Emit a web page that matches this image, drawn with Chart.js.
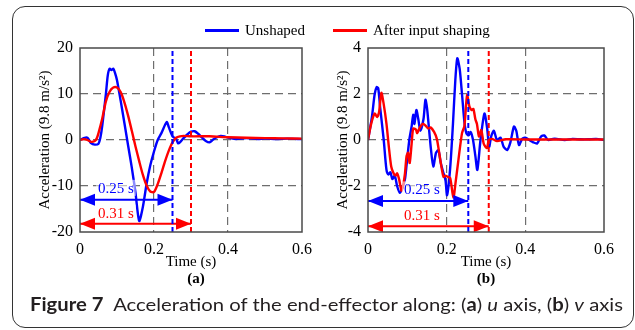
<!DOCTYPE html>
<html><head><meta charset="utf-8">
<script src="https://cdn.jsdelivr.net/npm/chart.js@4"></script>
<style>
body{margin:0;width:635px;height:330px;background:#fff;position:relative;overflow:hidden;font-family:'Liberation Serif','Times New Roman',serif;color:#000;}
#frame{position:absolute;left:12px;top:6px;width:622px;height:322px;border:1.3px solid #333;border-radius:13px;box-sizing:border-box;}
canvas{position:absolute;top:0;}
#cA{left:0;} #cB{left:320px;}
.ln{position:absolute;height:2.6px;}
.lt{position:absolute;font-size:15px;line-height:18px;white-space:nowrap;}
.sub{position:absolute;font-size:15px;font-weight:bold;line-height:18px;transform:translateX(-50%);}
#cap{position:absolute;left:30px;top:293px;font-family:'Lato',sans-serif;font-size:18px;line-height:22px;white-space:nowrap;transform-origin:0 50%;color:#231f20;}
</style></head>
<body>
<div id="frame"></div>
<canvas id="cA" width="320" height="290"></canvas>
<canvas id="cB" width="315" height="290"></canvas>
<div class="ln" style="left:205px;top:29px;width:34px;background:#0000ff"></div>
<div class="lt" id="l1" style="left:245px;top:21px"></div>
<div class="ln" style="left:333px;top:29px;width:34px;background:#ff0000"></div>
<div class="lt" id="l2" style="left:373px;top:21px"></div>
<div class="sub" style="left:196px;top:269px">(a)</div>
<div class="sub" style="left:486px;top:269px">(b)</div>
<div id="cap"><b>Figure 7</b>&nbsp; Acceleration of the end-effector along: (<b>a</b>) <i>u</i> axis, (<b>b</b>) <i>v</i> axis</div>
<script>
// ---- data ----
const seriesNames=['Unshaped','After input shaping'];
const xTicks=[0,0.2,0.4,0.6];
const xTickLabels=['0','0.2','0.4','0.6'];
const yTicksA=[-20,-10,0,10,20];
const yTickLabelsA=['-20','-10','0','10','20'];
const yTicksB=[-4,-2,0,2,4];
const yTickLabelsB=['-4','-2','0','2','4'];

// (a) u axis
const tA_unshaped=[0,0.01,0.02,0.03,0.04,0.05,0.055,0.06,0.07,0.075,0.08,0.085,0.09,0.095,0.1,0.11,0.12,0.13,0.14,0.15,0.16,0.17,0.18,0.19,0.2,0.21,0.22,0.23,0.235,0.24,0.25,0.26,0.265,0.27,0.28,0.29,0.3,0.31,0.32,0.33,0.34,0.35,0.36,0.37,0.38,0.39,0.4,0.42,0.45,0.48,0.5,0.53,0.56,0.6];
const aA_unshaped=[0,0.4,0.5,-0.7,-1,-0.8,0.5,3,10,14,15.5,15.2,15.5,14.5,13,8.5,3.7,-1.2,-6,-11.5,-17.6,-14.5,-9.5,-5.5,-2.5,0,1.5,3.3,3.9,2.8,0.8,0.2,-0.7,-0.5,0.4,1.2,1.8,1.9,1.3,0.5,-0.2,-0.5,0.1,0.6,0.9,0.8,0.5,0.2,0.4,0.2,0.3,0.2,0.3,0.2];
const tA_shaped=[0,0.01,0.02,0.03,0.04,0.045,0.05,0.06,0.07,0.08,0.09,0.1,0.11,0.12,0.13,0.14,0.15,0.16,0.17,0.18,0.19,0.2,0.21,0.22,0.23,0.24,0.25,0.26,0.27,0.28,0.3,0.35,0.4,0.45,0.5,0.55,0.6];
const aA_shaped=[0,0.2,0,-0.4,-0.2,0.3,1.5,4.6,8.4,10.5,11.4,11.4,10.4,8.2,5.3,2.0,-1.4,-4.6,-7.6,-9.9,-11.2,-11.3,-9.6,-7.2,-4.6,-2.3,-0.5,0.5,0.8,0.9,0.8,0.8,0.6,0.5,0.4,0.35,0.3];

// (b) v axis
const tB_unshaped=[0,0.01,0.017,0.022,0.026,0.031,0.04,0.047,0.052,0.057,0.062,0.068,0.074,0.081,0.088,0.094,0.098,0.105,0.111,0.115,0.118,0.123,0.128,0.133,0.141,0.146,0.15,0.154,0.16,0.166,0.173,0.179,0.185,0.192,0.197,0.201,0.209,0.216,0.222,0.227,0.233,0.239,0.245,0.25,0.256,0.261,0.267,0.273,0.278,0.286,0.296,0.303,0.308,0.313,0.32,0.328,0.337,0.345,0.354,0.362,0.371,0.377,0.384,0.392,0.4,0.41,0.42,0.43,0.44,0.448,0.458,0.47,0.48,0.5,0.52,0.54,0.56,0.58,0.6];
const aB_unshaped=[0,1.0,2.0,2.3,2.25,1.4,0,-1.3,-1.5,-1.4,-1.7,-1.55,-2.0,-2.3,-2.05,-1.7,-1.1,0,0.6,1.1,0.7,1.3,0.9,0.4,0.9,1.75,1.4,0.7,-0.4,-1.15,-0.55,-0.45,-1.0,-1.45,-1.75,-2.4,-1.2,0.7,2.6,3.55,3.1,2.0,0.8,0.3,0.2,0.35,0,-0.7,-1.3,0,1.15,0.5,-0.3,0.15,0.4,0,0.1,-0.3,-0.43,-0.1,0.58,0.4,-0.22,0.05,0.1,0,-0.1,-0.15,0.15,0.2,0,0.05,0.05,0,0.05,0.03,0.03,0.05,0];
const tB_shaped=[0,0.008,0.017,0.023,0.028,0.034,0.04,0.047,0.053,0.059,0.065,0.07,0.074,0.079,0.085,0.089,0.094,0.098,0.102,0.106,0.111,0.115,0.122,0.125,0.132,0.139,0.145,0.153,0.159,0.168,0.175,0.181,0.188,0.192,0.197,0.203,0.209,0.217,0.223,0.23,0.239,0.245,0.252,0.258,0.264,0.268,0.273,0.277,0.282,0.288,0.294,0.299,0.303,0.307,0.316,0.328,0.35,0.4,0.5,0.6];
const aB_shaped=[0,0.7,1.15,1.0,1.2,2.05,1.55,0.7,-0.3,-1.15,-1.45,-1.55,-1.45,-1.7,-2.2,-2.0,-1.45,-0.7,-0.55,-1.0,-0.15,0.5,0.45,0.3,0.55,0.7,0.65,0.5,0.55,0.35,0.05,-0.55,-1.3,-1.6,-1.55,-1.6,-1.65,-2.5,-1.8,-0.85,0.3,0.6,1.95,1.45,1.3,1.35,0.9,0.7,0.15,0.43,-0.15,-0.3,-0.35,0,0.05,-0.05,0.03,0.02,0.02,0.02];

// settling-time annotations
const settleLabels=['0.25 s','0.31 s'];
const settleA=[0.25,0.30];
const settleB=[0.255,0.307];
</script>
<script>
const BLUE='#0000ff', RED='#ff0000';
const SERIF="'Liberation Serif','Times New Roman',serif";
document.getElementById('l1').textContent=seriesNames[0];
document.getElementById('l2').textContent=seriesNames[1];

function pts(t,v){return t.map((x,i)=>({x:x,y:v[i]}));}

const decor={
  id:'decor',
  afterDatasetsDraw(chart,args,opts){
    const {ctx,chartArea:a,scales:{x,y}}=chart;
    opts.arrows.forEach(ar=>{
      const x0=x.getPixelForValue(0), x1=x.getPixelForValue(ar.to), yy=y.getPixelForValue(ar.y);
      ctx.save(); ctx.fillStyle=ar.color;
      const L=15,H=6;
      ctx.beginPath(); ctx.moveTo(x0,yy); ctx.lineTo(x0+L,yy-H); ctx.lineTo(x0+L,yy+H); ctx.closePath(); ctx.fill();
      ctx.beginPath(); ctx.moveTo(x1,yy); ctx.lineTo(x1-L,yy-H); ctx.lineTo(x1-L,yy+H); ctx.closePath(); ctx.fill();
      ctx.restore();
    });
    opts.labels.forEach(lb=>{
      const px=x.getPixelForValue(lb.x), py=y.getPixelForValue(lb.y);
      ctx.save(); ctx.font='15px '+SERIF;
      const w=ctx.measureText(lb.text).width;
      ctx.fillStyle='rgba(255,255,255,0.55)';
      ctx.fillRect(px-w/2-2,py-8,w+4,16);
      ctx.fillStyle=lb.color; ctx.textAlign='center'; ctx.textBaseline='middle';
      ctx.fillText(lb.text,px,py+1);
      ctx.restore();
    });
  },
  afterDraw(chart){
    const {ctx,chartArea:a}=chart;
    ctx.save(); ctx.strokeStyle='#4a4a4a'; ctx.lineWidth=1.5;
    ctx.strokeRect(a.left,a.top,a.right-a.left,a.bottom-a.top);
    ctx.restore();
  }
};

function makeChart(id,cfg){
  const gridCol=(edgeVals)=>(c)=>edgeVals.includes(c.tick&&c.tick.value)?'rgba(0,0,0,0)':'#6e6e6e';
  const ds=[
    {data:pts(cfg.tU,cfg.vU),borderColor:BLUE,borderWidth:2.4,tension:0.25,pointRadius:0,order:2},
    {data:pts(cfg.tS,cfg.vS),borderColor:RED,borderWidth:2.4,tension:0.25,pointRadius:0,order:1},
    {data:[{x:cfg.settle[0],y:cfg.yT[0]},{x:cfg.settle[0],y:cfg.yT[cfg.yT.length-1]}],borderColor:BLUE,borderWidth:2,borderDash:[5,3],pointRadius:0,order:0},
    {data:[{x:cfg.settle[1],y:cfg.yT[0]},{x:cfg.settle[1],y:cfg.yT[cfg.yT.length-1]}],borderColor:RED,borderWidth:2,borderDash:[5,3],pointRadius:0,order:0},
    {data:[{x:0,y:cfg.arY[0]},{x:cfg.settle[0],y:cfg.arY[0]}],borderColor:BLUE,borderWidth:2,pointRadius:0,order:0},
    {data:[{x:0,y:cfg.arY[1]},{x:cfg.settle[1],y:cfg.arY[1]}],borderColor:RED,borderWidth:2,pointRadius:0,order:0}
  ];
  return new Chart(document.getElementById(id),{
    type:'line',
    data:{datasets:ds},
    plugins:[decor],
    options:{
      responsive:false,animation:false,
      layout:{padding:{left:0,right:cfg.padR,top:48,bottom:0}},
      plugins:{legend:{display:false},tooltip:{enabled:false},
        decor:{
          arrows:[{y:cfg.arY[0],to:cfg.settle[0],color:BLUE},{y:cfg.arY[1],to:cfg.settle[1],color:RED}],
          labels:[{x:cfg.lab[0][0],y:cfg.lab[0][1],text:settleLabels[0],color:BLUE},{x:cfg.lab[1][0],y:cfg.lab[1][1],text:settleLabels[1],color:RED}]
        }},
      scales:{
        x:{type:'linear',min:0,max:0.6,
          afterBuildTicks:s=>{s.ticks=xTicks.map(v=>({value:v}));},
          afterFit:s=>{s.height=58;},
          ticks:{callback:(v,i)=>xTickLabels[i],font:{family:SERIF,size:16},color:'#000',padding:8,maxRotation:0},
          grid:{color:gridCol([0,0.6]),lineWidth:1.2,drawTicks:false},
          border:{display:false,dash:[8,5]},
          title:{display:true,text:'Time (s)',font:{family:SERIF,size:15},color:'#000',padding:19}
        },
        y:{type:'linear',min:cfg.yT[0],max:cfg.yT[cfg.yT.length-1],
          afterBuildTicks:s=>{s.ticks=cfg.yT.map(v=>({value:v}));},
          afterFit:s=>{s.width=cfg.yW;},
          ticks:{callback:(v,i)=>cfg.yL[i],font:{family:SERIF,size:16},color:'#000',padding:7},
          grid:{color:gridCol([cfg.yT[0],cfg.yT[cfg.yT.length-1]]),lineWidth:1.2,drawTicks:false},
          border:{display:false,dash:[8,5]},
          title:{display:true,text:'Acceleration (9.8 m/s²)',font:{family:SERIF,size:15},color:'#000',padding:cfg.yTitlePad}
        }
      }
    }
  });
}

makeChart('cA',{tU:tA_unshaped,vU:aA_unshaped,tS:tA_shaped,vS:aA_shaped,settle:settleA,
  yT:yTicksA,yL:yTickLabelsA,arY:[-13,-18.2],lab:[[0.097,-10.4],[0.097,-15.8]],padR:7,yW:80,yTitlePad:36});
makeChart('cB',{tU:tB_unshaped,vU:aB_unshaped,tS:tB_shaped,vS:aB_shaped,settle:settleB,
  yT:yTicksB,yL:yTickLabelsB,arY:[-2.65,-3.75],lab:[[0.137,-2.15],[0.137,-3.25]],padR:31,yW:48,yTitlePad:14});

const cap=document.getElementById('cap');
const w=cap.getBoundingClientRect().width;
cap.style.transform='scaleX('+(593/w)+')';
</script>
</body></html>
